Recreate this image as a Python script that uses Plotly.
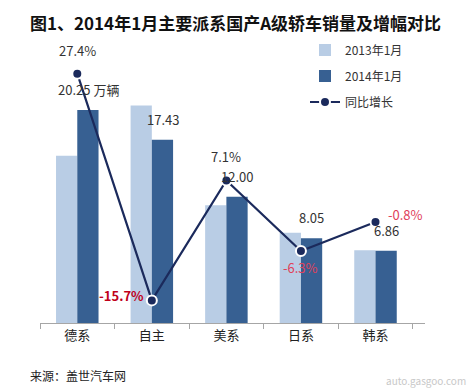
import plotly.graph_objects as go

categories = ["德系", "自主", "美系", "日系", "韩系"]
sales_2013 = [15.89, 20.68, 11.20, 8.59, 6.92]
sales_2014 = [20.25, 17.43, 12.00, 8.05, 6.86]
growth = [27.4, -15.7, 7.1, -6.3, -0.8]
sales_labels = ["20.25 万辆", "17.43", "12.00", "8.05", "6.86"]
growth_labels = ["27.4%", "-15.7%", "7.1%", "-6.3%", "-0.8%"]

FONT = "Noto Sans CJK SC"
LIGHT = "#B9CDE5"
DARK = "#376092"
NAVY = "#1B2A5C"

# plot area in pixels: x 40..425, y 60..323
def px(xp):
    return (xp - 40) / 385.0

def py(yp):
    return (323 - yp) / 263.0

fig = go.Figure()
fig.add_trace(go.Bar(x=categories, y=sales_2013, name="2013年1月",
                     marker=dict(color=LIGHT, line=dict(width=0)), legend="legend"))
fig.add_trace(go.Bar(x=categories, y=sales_2014, name="2014年1月",
                     marker=dict(color=DARK, line=dict(width=0)), legend="legend2"))
fig.add_trace(go.Scatter(x=categories, y=growth, name="同比增长", yaxis="y2",
                         mode="lines+markers",
                         line=dict(color=NAVY, width=2.2),
                         marker=dict(color=NAVY, size=10, line=dict(color="white", width=2)),
                         legend="legend3"))

# value labels above dark bars
for c, v, t in zip(categories, sales_2014, sales_labels):
    fig.add_annotation(x=c, y=v, xref="x", yref="y", text=t, showarrow=False,
                       xshift=11, yshift=9, yanchor="bottom",
                       font=dict(family=FONT, size=13, color="#333333"))

# growth labels
offsets = [(0, 12, "bottom", "#333333", False),
           (-30, 5, "middle", "#C0001A", True),
           (0, 12, "bottom", "#333333", False),
           (0, -5, "top", "#E0405A", False),
           (30, 8, "middle", "#E0405A", False)]
for c, g, t, (dx, dy, ya, col, bold) in zip(categories, growth, growth_labels, offsets):
    fig.add_annotation(x=c, y=g, xref="x", yref="y2",
                       text=f"<b>{t}</b>" if bold else t, showarrow=False,
                       xshift=dx, yshift=dy, yanchor=ya,
                       font=dict(family=FONT, size=13, color=col))

fig.add_annotation(text="<b>图1、2014年1月主要派系国产A级轿车销量及增幅对比</b>",
                   xref="paper", yref="paper", x=px(236), y=py(22),
                   xanchor="center", yanchor="middle", showarrow=False,
                   font=dict(family=FONT, size=17, color="#111111"))
fig.add_annotation(text="来源：盖世汽车网", xref="paper", yref="paper",
                   x=px(28), y=py(375), xanchor="left", yanchor="middle",
                   showarrow=False, font=dict(family=FONT, size=12, color="#222222"))
fig.add_annotation(text="auto.gasgoo.com", xref="paper", yref="paper",
                   x=px(468), y=py(380), xanchor="right", yanchor="middle",
                   showarrow=False, font=dict(family=FONT, size=10, color="#C8C8C8"))

leg_common = dict(xref="container", yref="container", xanchor="left", yanchor="middle",
                  bgcolor="rgba(0,0,0,0)", font=dict(family=FONT, size=12, color="#333333"))

fig.update_layout(
    width=473, height=390,
    margin=dict(l=40, r=48, t=60, b=67, autoexpand=False),
    paper_bgcolor="white", plot_bgcolor="white",
    barmode="group", bargap=0.43, bargroupgap=0,
    font=dict(family=FONT, size=13, color="#333333"),
    showlegend=True,
    legend=dict(x=305 / 473, y=1 - 50 / 390, **leg_common),
    legend2=dict(x=305 / 473, y=1 - 76 / 390, **leg_common),
    legend3=dict(x=305 / 473, y=1 - 102 / 390, **leg_common),
    xaxis=dict(showline=True, linecolor="#A6A6A6", linewidth=1,
               ticks="outside", tickson="boundaries", ticklen=5, tickcolor="#A6A6A6",
               tickfont=dict(family=FONT, size=13, color="#222222"), showgrid=False),
    yaxis=dict(range=[0, 25], visible=False, showgrid=False, zeroline=False),
    yaxis2=dict(range=[-20, 30], overlaying="y", side="right", visible=False,
                showgrid=False, zeroline=False),
)

fig.write_html("out.html", config={"displayModeBar": False},
               post_script="document.body.style.margin='0';document.body.style.overflow='hidden';")
